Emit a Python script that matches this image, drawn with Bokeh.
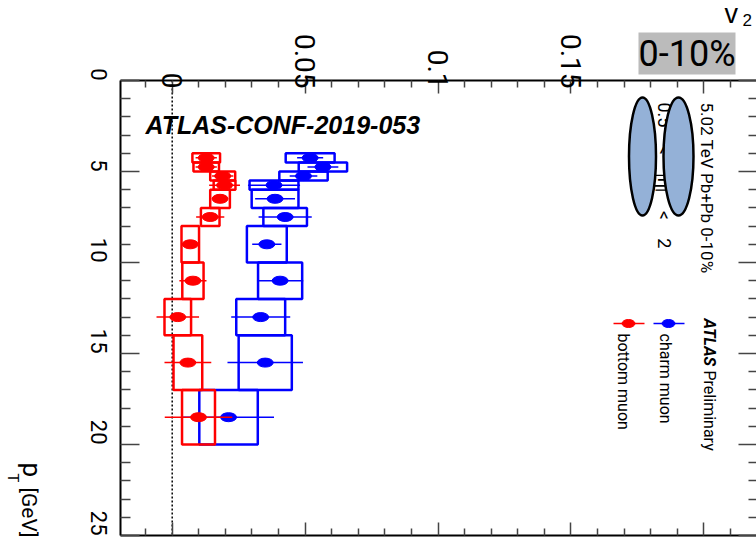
import math
from bokeh.plotting import figure
from bokeh.models import (Range1d, LinearAxis, FixedTicker, Label,
                          CustomJSTickFormatter, ColumnDataSource)
from bokeh.core.properties import value
from bokeh.embed import file_html
from bokeh.resources import INLINE

# ---------------- data ----------------
pt_edges = [4.0, 4.5, 5.0, 5.5, 6.0, 7.0, 8.0, 10.0, 12.0, 14.0, 17.0, 20.0]

charm_v2   = [0.0519, 0.0567, 0.0494, 0.0383, 0.0387, 0.0425, 0.0356, 0.0406, 0.0333, 0.0350, 0.0212]
charm_stat = [0.0049, 0.0058, 0.0052, 0.0098, 0.0075, 0.0100, 0.0055, 0.0087, 0.0111, 0.0142, 0.0171]
charm_sys  = [0.0092, 0.0091, 0.0091, 0.0092, 0.0088, 0.0082, 0.0075, 0.0083, 0.0092, 0.0100, 0.0110]

bottom_v2   = [0.0128, 0.0128, 0.0190, 0.0197, 0.0180, 0.0143, 0.0068, 0.0078, 0.0021, 0.0059, 0.0099]
bottom_stat = [0.0040, 0.0040, 0.0040, 0.0058, 0.0030, 0.0053, 0.0030, 0.0051, 0.0080, 0.0088, 0.0127]
bottom_sys  = [0.0052, 0.0048, 0.0047, 0.0041, 0.0037, 0.0035, 0.0033, 0.0040, 0.0050, 0.0054, 0.0062]

v2_major_ticks = [0.0, 0.05, 0.10, 0.15, 0.20]
v2_minor_ticks = [-0.01, 0.01, 0.02, 0.03, 0.04, 0.06, 0.07, 0.08, 0.09, 0.11, 0.12,
                  0.13, 0.14, 0.16, 0.17, 0.18, 0.19, 0.21]
pt_major_ticks = [0, 5, 10, 15, 20, 25]
pt_minor_ticks = [1, 2, 3, 4, 6, 7, 8, 9, 11, 12, 13, 14, 16, 17, 18, 19, 21, 22, 23, 24]

# picture-pixel -> data helpers (frame spans the whole canvas)
X0, XS = 171.7, 2658.0
Y0, YS = 80.0, 18.2
def vx(px):
    return (px - X0) / XS
def py(pp):
    return (pp - Y0) / YS

W, H = 756, 548
FRAME_L, FRAME_R = vx(120), vx(756)
PT_LO, PT_HI = pt_major_ticks[0], pt_major_ticks[-1]

FONT = "Roboto"
SANS = "Liberation Sans"

p = figure(width=W, height=H, output_backend="svg", toolbar_location=None,
           x_range=Range1d(vx(0), vx(W)), y_range=Range1d(py(H), py(0)),
           x_axis_location=None, y_axis_location=None,
           min_border_left=0, min_border_top=0, min_border_right=0, min_border_bottom=0)
p.grid.visible = False
p.outline_line_color = None
p.background_fill_color = "white"
p.border_fill_color = "white"

# ---- axes (drawn at fixed locations so the frame covers the canvas) ----
def style(ax, major_in, minor_in):
    ax.major_tick_in = major_in
    ax.major_tick_out = 0
    ax.minor_tick_in = minor_in
    ax.minor_tick_out = 0
    ax.major_tick_line_color = "#444444"
    ax.minor_tick_line_color = "#444444"
    ax.major_tick_line_width = 1.5
    ax.minor_tick_line_width = 1.5
    ax.axis_line_color = "black"
    ax.axis_line_width = 2

xt = FixedTicker(ticks=v2_major_ticks, minor_ticks=v2_minor_ticks)
yt = FixedTicker(ticks=pt_major_ticks, minor_ticks=pt_minor_ticks)
blank = "return '';"

top = LinearAxis(ticker=xt, fixed_location=PT_LO, bounds=(FRAME_L, FRAME_R))
style(top, 13, 7)
top.formatter = CustomJSTickFormatter(code="""
if (Math.abs(tick) < 1e-9) return '0';
if (Math.abs(tick - 0.2) < 1e-9) return '';
return String(Math.round(tick*100)/100);""")
top.major_label_orientation = -math.pi / 2
top.major_label_text_font = FONT
top.major_label_text_font_size = "28px"
top.major_label_text_color = "black"
top.major_label_standoff = -8
p.add_layout(top, "above")

bottom_ax = LinearAxis(ticker=xt, fixed_location=PT_HI, bounds=(FRAME_L, FRAME_R),
                       formatter=CustomJSTickFormatter(code=blank),
                       major_label_text_font_size="0px", major_label_standoff=0)
style(bottom_ax, 13, 7)
p.add_layout(bottom_ax, "below")

left = LinearAxis(ticker=yt, fixed_location=FRAME_L, bounds=(PT_LO, PT_HI))
style(left, 19, 10)
left.major_label_orientation = -math.pi / 2
left.major_label_text_font = FONT
left.major_label_text_font_size = "22px"
left.major_label_text_color = "black"
left.major_label_standoff = 22
p.add_layout(left, "left")

right_ax = LinearAxis(ticker=yt, fixed_location=FRAME_R, bounds=(PT_LO, PT_HI),
                      formatter=CustomJSTickFormatter(code=blank),
                      major_label_text_font_size="0px", major_label_standoff=0)
style(right_ax, 18, 8)
right_ax.axis_line_color = None
p.add_layout(right_ax, "right")

# dotted zero line across the pT range
p.segment(x0=[0.0], x1=[0.0], y0=[PT_LO], y1=[PT_HI], line_color="black",
          line_dash="2 2", line_width=1.5)

# ---- data series ----
def make_source(v2, stat, sys):
    lo = pt_edges[:-1]
    hi = pt_edges[1:]
    return ColumnDataSource(dict(
        pt=[(a + b) / 2 for a, b in zip(lo, hi)],
        pt_lo=lo, pt_hi=hi, v2=v2,
        s_lo=[v - s for v, s in zip(v2, stat)],
        s_hi=[v + s for v, s in zip(v2, stat)],
        b_lo=[v - s for v, s in zip(v2, sys)],
        b_hi=[v + s for v, s in zip(v2, sys)],
    ))

for v2, stat, sys, col in [(charm_v2, charm_stat, charm_sys, "#0000ff"),
                           (bottom_v2, bottom_stat, bottom_sys, "#ff0000")]:
    src = make_source(v2, stat, sys)
    p.quad(left="b_lo", right="b_hi", top="pt_lo", bottom="pt_hi", source=src,
           fill_color=None, line_color=col, line_width=2.5)
    p.segment(x0="s_lo", x1="s_hi", y0="pt", y1="pt", source=src,
              line_color=col, line_width=1.5)
    p.ellipse(x="v2", y="pt", width=16, height=9, width_units="screen",
              height_units="screen", source=src, fill_color=col, line_color=col)

# ---- rotated texts & decorations ----
ROT = -math.pi / 2
SP = "\u2002\u2002"

p.text(x=[vx(664)], y=[py(102)], text=["0.5" + SP + "<" + SP + "|η|" + SP + "<" + SP + "2"],
       angle=ROT, text_font=value(FONT), text_font_size="18px", text_align="left",
       text_baseline="middle", text_color="black")

p.ellipse(x=[vx(642), vx(678)], y=[py(156), py(156)], width=[27, 30], height=[118, 118],
          width_units="screen", height_units="screen",
          fill_color="#94b1d7", line_color="black", line_width=2.5)

def rlabel(txt, px, pyy, size="16px", style="normal", font=FONT):
    p.add_layout(Label(x=vx(px), y=py(pyy), text=txt, angle=ROT, text_font=font,
                       text_font_size=size, text_font_style=style, text_align="left",
                       text_baseline="middle", text_color="black"))

rlabel("5.02 TeV Pb+Pb 0-10%", 706, 102, size="17px")
rlabel("ATLAS", 709, 318, style="bold italic")
rlabel("Preliminary", 709, 370)
rlabel("charm muon", 665, 333)
rlabel("bottom muon", 623, 333)
rlabel("p", 31, 462, size="26px")
rlabel("T", 12, 473, size="15px")
rlabel("[GeV]", 28, 487, size="21px")

# legend markers
for cx, col in [(668, "#0000ff"), (628, "#ff0000")]:
    p.segment(x0=[vx(cx - 15)], x1=[vx(cx + 16)], y0=[py(323)], y1=[py(323)],
              line_color=col, line_width=1.5)
    p.ellipse(x=[vx(cx)], y=[py(323)], width=13, height=8, width_units="screen",
              height_units="screen", fill_color=col, line_color=col)

# ---- upright texts ----
p.add_layout(Label(x=vx(145), y=py(124), text="ATLAS-CONF-2019-053", text_font=SANS,
                   text_font_size="25px", text_font_style="bold italic",
                   text_align="left", text_baseline="middle", text_color="black"))
p.add_layout(Label(x=vx(686.5), y=py(53), text="0-10%",
                   text_font=FONT, text_font_size="36px", text_align="center",
                   text_baseline="middle", text_color="black",
                   background_fill_color="#bbbbbb"))
p.add_layout(Label(x=vx(724), y=py(13), text="v", text_font=SANS,
                   text_font_size="27px", text_align="left", text_baseline="middle",
                   text_color="black"))
p.add_layout(Label(x=vx(742), y=py(19), text="2", text_font=SANS,
                   text_font_size="17px", text_align="left", text_baseline="middle",
                   text_color="black"))

open("out.html", "w").write(file_html(p, INLINE))
